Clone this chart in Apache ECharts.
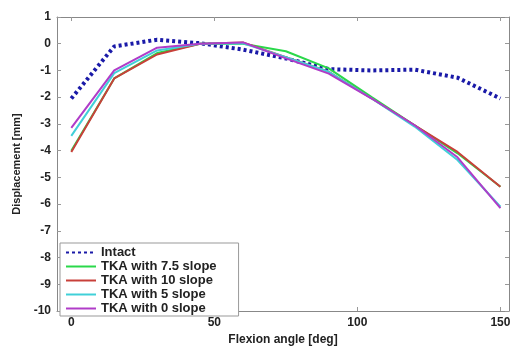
<!DOCTYPE html>
<html>
<head>
<meta charset="utf-8">
<script src="https://cdn.jsdelivr.net/npm/echarts@6/dist/echarts.min.js"></script>
<style>
  html, body { margin: 0; padding: 0; background: #fff; }
  #chart { width: 514px; height: 351px; }
</style>
</head>
<body>
<div id="chart"></div>
<script>
// flexion angles [deg]
const angles = [0, 15, 30, 45, 60, 75, 90, 105, 120, 135, 150];
// displacement [mm]
const intact = [-2.05, -0.1, 0.15, 0.02, -0.22, -0.55, -0.95, -1.0, -0.97, -1.27, -2.05];
const slope75 = [-4.0, -1.3, -0.35, 0, 0, -0.28, -0.92, -2.0, -3.05, -4.1, -5.35];
const slope10 = [-4.05, -1.3, -0.4, 0, 0.05, -0.5, -1.05, -2.05, -3.05, -4.05, -5.35];
const slope5 = [-3.45, -1.1, -0.25, 0, 0.02, -0.5, -1.05, -2.05, -3.1, -4.35, -6.1];
const slope0 = [-3.15, -1.0, -0.15, 0, 0.05, -0.55, -1.12, -2.05, -3.05, -4.25, -6.15];
const xTicks = [0, 50, 100, 150];

const font = 'Liberation Sans, Arial, sans-serif';

const pairs = (ys) => angles.map((a, i) => [a, ys[i]]);

const mkLine = (name, ys, color, type, width) => ({
    name: name,
    type: 'line',
    data: pairs(ys),
    symbol: 'none',
    showSymbol: false,
    lineStyle: { color: color, width: width, type: type },
    itemStyle: { color: color },
    z: 2,
});

const axisCommon = {
    axisLine: { show: true, onZero: false, lineStyle: { color: '#888', width: 1 } },
    axisTick: { show: true, inside: true, length: 4, lineStyle: { color: '#999' } },
    splitLine: { show: false },
};

const labelStyle = { fontFamily: font, fontWeight: 'bold', fontSize: 12, color: '#222' };

const myChart = echarts.init(document.getElementById('chart'));
const option = {
    backgroundColor: '#fff',
    animation: false,
    grid: { left: 57, right: 5, top: 17, bottom: 30, show: false },
    legend: {
        orient: 'vertical',
        left: 60,
        top: 243,
        itemWidth: 30,
        itemHeight: 12,
        itemGap: 1,
        padding: [3, 22, 1, 5],
        borderColor: '#999',
        borderWidth: 1,
        backgroundColor: '#fff',
        itemStyle: { opacity: 0 },
        textStyle: { fontFamily: font, fontWeight: 'bold', fontSize: 13, color: '#222' },
        data: ['Intact', 'TKA with 7.5 slope', 'TKA with 10 slope', 'TKA with 5 slope', 'TKA with 0 slope'],
    },
    xAxis: [
        {
            type: 'value',
            min: -5,
            max: 153,
            name: 'Flexion angle [deg]',
            nameLocation: 'middle',
            nameGap: 23,
            nameTextStyle: labelStyle,
            ...axisCommon,
            axisTick: { ...axisCommon.axisTick, customValues: xTicks },
            axisLabel: { ...labelStyle, customValues: xTicks, margin: 6 },
        },
        {
            type: 'value',
            position: 'top',
            min: -5,
            max: 153,
            ...axisCommon,
            axisTick: { ...axisCommon.axisTick, customValues: xTicks },
            axisLabel: { show: false },
        },
    ],
    yAxis: [
        {
            type: 'value',
            min: -10,
            max: 1,
            interval: 1,
            name: 'Displacement [mm]',
            nameLocation: 'middle',
            nameGap: 33,
            nameTextStyle: { ...labelStyle, fontSize: 11 },
            ...axisCommon,
            axisLabel: { ...labelStyle, margin: 6 },
        },
        {
            type: 'value',
            position: 'right',
            min: -10,
            max: 1,
            interval: 1,
            ...axisCommon,
            axisLabel: { show: false },
        },
    ],
    series: [
        mkLine('Intact', intact, '#1a1aa8', [3, 3], 4),
        mkLine('TKA with 7.5 slope', slope75, '#2ad84a', 'solid', 2),
        mkLine('TKA with 10 slope', slope10, '#c8403a', 'solid', 2),
        mkLine('TKA with 5 slope', slope5, '#40d0d8', 'solid', 2),
        mkLine('TKA with 0 slope', slope0, '#b03cc8', 'solid', 2),
    ],
};
myChart.setOption(option);
</script>
</body>
</html>
